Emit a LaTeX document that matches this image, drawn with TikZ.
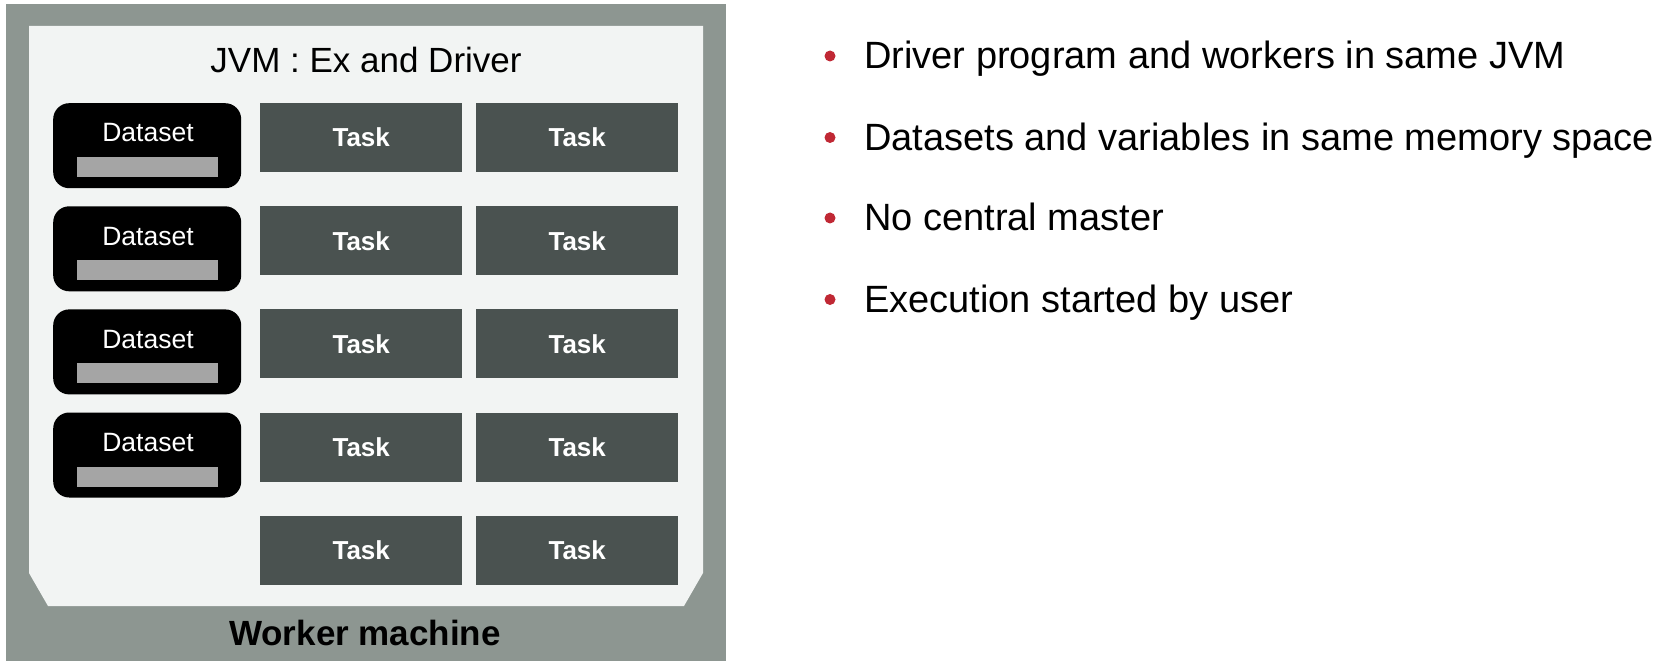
\documentclass[tikz,border=0pt]{standalone}
\usepackage{fontspec}
\setmainfont{Liberation Sans}
\definecolor{outergray}{RGB}{141,150,145}
\definecolor{innerbg}{RGB}{242,244,243}
\definecolor{taskfill}{RGB}{74,82,80}
\definecolor{barfill}{RGB}{165,165,165}
\definecolor{bulletred}{RGB}{192,40,52}
\begin{document}
\begin{tikzpicture}[x=1pt,y=-1pt,
  taskbox/.style={fill=taskfill, minimum width=202pt, minimum height=69pt, inner sep=0pt, anchor=north west, text=white, font=\fontsize{26}{30}\selectfont\bfseries},
  databox/.style={fill=black, rounded corners=16pt, minimum width=188pt, minimum height=85pt, inner sep=0pt, anchor=north west},
  databar/.style={fill=barfill, minimum width=141pt, minimum height=20pt, inner sep=0pt, anchor=north west},
  datalbl/.style={text=white, inner sep=0pt, anchor=base, font=\fontsize{26.5}{30}\selectfont},
  bullettext/.style={inner sep=0pt, anchor=base west, font=\fontsize{38}{42}\selectfont},
  bulletdot/.style={circle, fill=bulletred, minimum size=11pt, inner sep=0pt}
]
\useasboundingbox[fill=white] (0,0) rectangle (1678,668);
\fill[outergray] (6,4) rectangle (726,661);
\fill[innerbg] (29,26) -- (703,26) -- (703,573) -- (684,606) -- (48,606) -- (29,573) -- cycle;
\node[font=\fontsize{35}{40}\selectfont, inner sep=0pt, anchor=base] (title) at (366,73) {JVM : Ex and Driver};
\foreach \i in {0,1,2,3} {
  \pgfmathsetmacro{\yy}{103+\i*103.1}
  \node[databox] (ds\i) at (53,\yy) {};
  \node[datalbl] (dslbl\i) at (148,\yy+39) {Dataset};
  \node[databar] (dsbar\i) at (77,\yy+54) {};
}
\foreach \i in {0,1,2,3,4} {
  \pgfmathsetmacro{\yy}{103+\i*103.1}
  \node[taskbox] (taskA\i) at (260,\yy) {Task};
  \node[taskbox] (taskB\i) at (476,\yy) {Task};
}
\node[font=\fontsize{35}{40}\selectfont\bfseries, inner sep=0pt, anchor=base] (worker) at (365,645) {Worker machine};
\node[bulletdot] (b1) at (830,56) {};
\node[bullettext] (t1) at (864,69) {Driver program and workers in same JVM};
\node[bulletdot] (b2) at (830,137.5) {};
\node[bullettext] (t2) at (864,150.5) {Datasets and variables in same memory space};
\node[bulletdot] (b3) at (830,218) {};
\node[bullettext] (t3) at (864,231) {No central master};
\node[bulletdot] (b4) at (830,299.5) {};
\node[bullettext] (t4) at (864,312.5) {Execution started by user};
\end{tikzpicture}
\end{document}
